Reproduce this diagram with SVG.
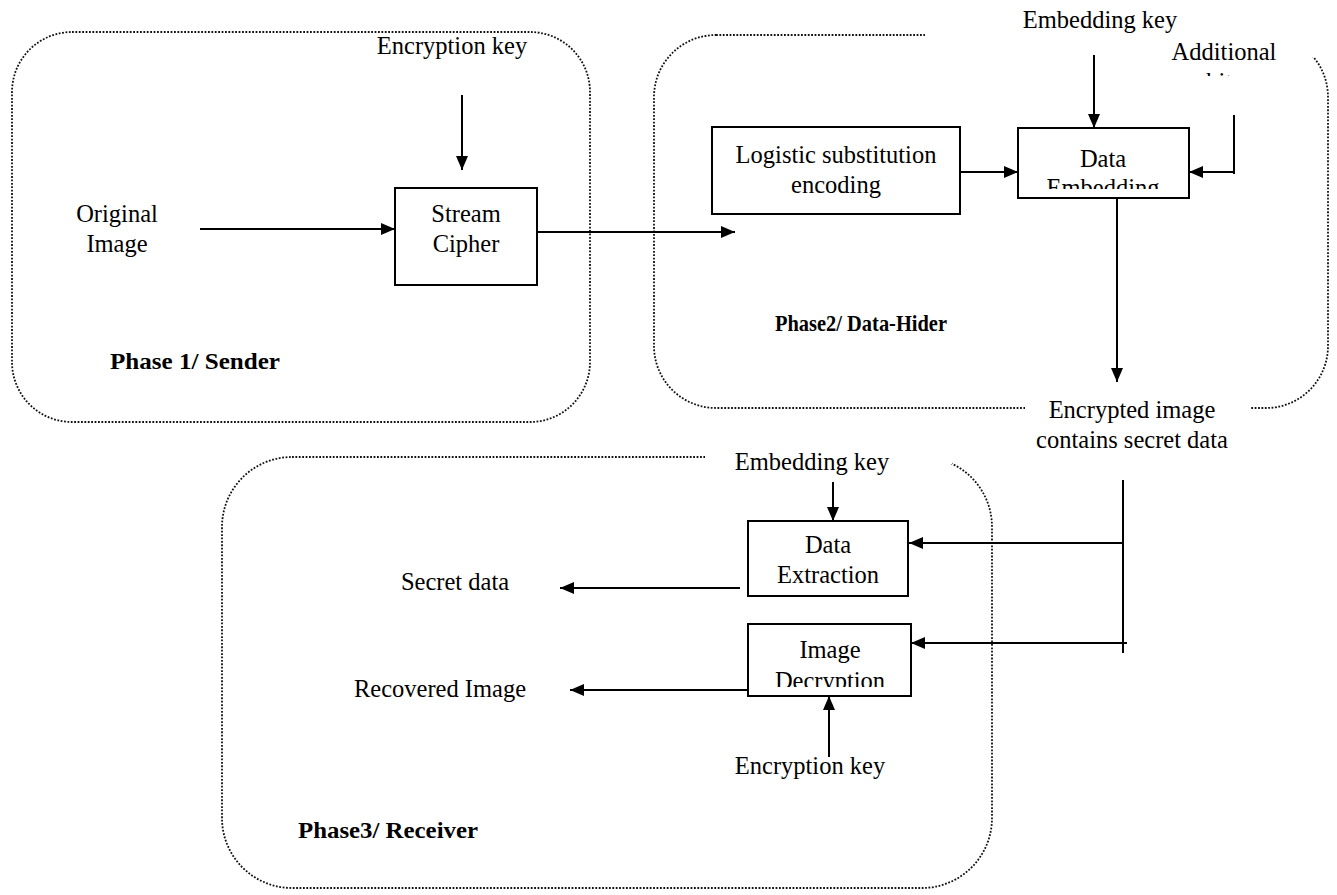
<svg xmlns="http://www.w3.org/2000/svg" width="1337" height="895" viewBox="0 0 1337 895">
<style>
.phase{fill:none;stroke:#111;stroke-width:1.8;stroke-dasharray:1.8 1.6}
.mask{fill:#fff;stroke:none}
.box{fill:#fff;stroke:#000;stroke-width:2}
.t{font-family:"Liberation Serif","Times New Roman",serif;font-size:24.5px;fill:#000;text-anchor:middle}
.b{font-family:"Liberation Serif","Times New Roman",serif;font-size:24px;font-weight:bold;fill:#000}
.c{stroke:#000;stroke-width:2;fill:none}
.ca{stroke:#000;stroke-width:2;fill:none;marker-end:url(#ah)}
</style>
<defs>
<marker id="ah" markerUnits="userSpaceOnUse" markerWidth="15" markerHeight="12" refX="14" refY="6" orient="auto">
<path d="M0,0 L14,6 L0,12 z" fill="#000"/>
</marker>
<clipPath id="clipEmb"><rect x="1019" y="129" width="168" height="60"/></clipPath>
<clipPath id="clipBits"><rect x="1150" y="30" width="150" height="46"/></clipPath>
<clipPath id="clipDec"><rect x="749" y="625" width="160" height="62"/></clipPath>
</defs>

<g id="phase1">
<rect class="phase" x="12" y="32" width="578" height="390" rx="60" ry="60"/>
<text class="b" x="110" y="369" textLength="170" lengthAdjust="spacingAndGlyphs">Phase 1/ Sender</text>
</g>
<g id="phase2">
<rect class="phase" x="654" y="35" width="674" height="373" rx="62" ry="62"/>
<rect class="mask" x="925" y="0" width="412" height="57"/>
<rect class="mask" x="1025" y="392" width="225" height="70"/>
<text class="b" x="775" y="331" textLength="172" lengthAdjust="spacingAndGlyphs">Phase2/ Data-Hider</text>
</g>
<g id="phase3">
<rect class="phase" x="222" y="457" width="770" height="431" rx="70" ry="70"/>
<rect class="mask" x="705" y="440" width="247" height="24"/>
<text class="b" x="298" y="838" textLength="180" lengthAdjust="spacingAndGlyphs">Phase3/ Receiver</text>
</g>

<g id="connectors">
<line class="ca" x1="462" y1="95" x2="462" y2="170"/>
<line class="ca" x1="200" y1="229" x2="395" y2="229"/>
<line class="ca" x1="537" y1="232" x2="735" y2="232"/>
<line class="ca" x1="955" y1="172" x2="1018" y2="172"/>
<line class="ca" x1="1094" y1="55" x2="1094" y2="128"/>
<line class="c" x1="1234" y1="115" x2="1234" y2="174"/>
<line class="ca" x1="1234" y1="172" x2="1189" y2="172"/>
<line class="ca" x1="1117" y1="198" x2="1117" y2="382"/>
<line class="c" x1="1123" y1="480" x2="1123" y2="653"/>
<line class="ca" x1="1123" y1="543" x2="909" y2="543"/>
<line class="ca" x1="1127" y1="643" x2="911" y2="643"/>
<line class="ca" x1="833" y1="482" x2="833" y2="521"/>
<line class="ca" x1="740" y1="588" x2="560" y2="588"/>
<line class="ca" x1="752" y1="690" x2="570" y2="690"/>
<line class="ca" x1="829" y1="757" x2="829" y2="696"/>
</g>

<g id="encryption-key-1"><text class="t" x="452" y="54">Encryption key</text></g>
<g id="original-image"><text class="t" x="117" y="222">Original</text><text class="t" x="117" y="252">Image</text></g>
<g id="stream-cipher">
<rect class="box" x="395" y="188" width="142" height="97"/>
<text class="t" x="466" y="222">Stream</text><text class="t" x="466" y="252">Cipher</text>
</g>
<g id="logistic">
<rect class="box" x="712" y="127" width="248" height="87"/>
<text class="t" x="836" y="163">Logistic substitution</text><text class="t" x="836" y="193">encoding</text>
</g>
<g id="data-embedding">
<rect class="box" x="1018" y="128" width="171" height="70"/>
<text class="t" x="1103" y="167">Data</text>
<text class="t" x="1103" y="196" clip-path="url(#clipEmb)">Embedding</text>
</g>
<g id="embedding-key-1"><text class="t" x="1100" y="28">Embedding key</text></g>
<g id="additional-bits">
<text class="t" x="1224" y="60">Additional</text>
<text class="t" x="1224" y="90" clip-path="url(#clipBits)">bits</text>
</g>
<g id="encrypted-image"><text class="t" x="1132" y="418">Encrypted image</text><text class="t" x="1132" y="448">contains secret data</text></g>
<g id="embedding-key-2"><text class="t" x="812" y="470">Embedding key</text></g>
<g id="data-extraction">
<rect class="box" x="748" y="521" width="160" height="75"/>
<text class="t" x="828" y="553">Data</text><text class="t" x="828" y="583">Extraction</text>
</g>
<g id="image-decryption">
<rect class="box" x="748" y="624" width="163" height="72"/>
<text class="t" x="830" y="658">Image</text>
<text class="t" x="830" y="689" clip-path="url(#clipDec)">Decryption</text>
</g>
<g id="secret-data"><text class="t" x="455" y="590">Secret data</text></g>
<g id="recovered-image"><text class="t" x="440" y="697">Recovered Image</text></g>
<g id="encryption-key-2"><text class="t" x="810" y="774">Encryption key</text></g>
</svg>
